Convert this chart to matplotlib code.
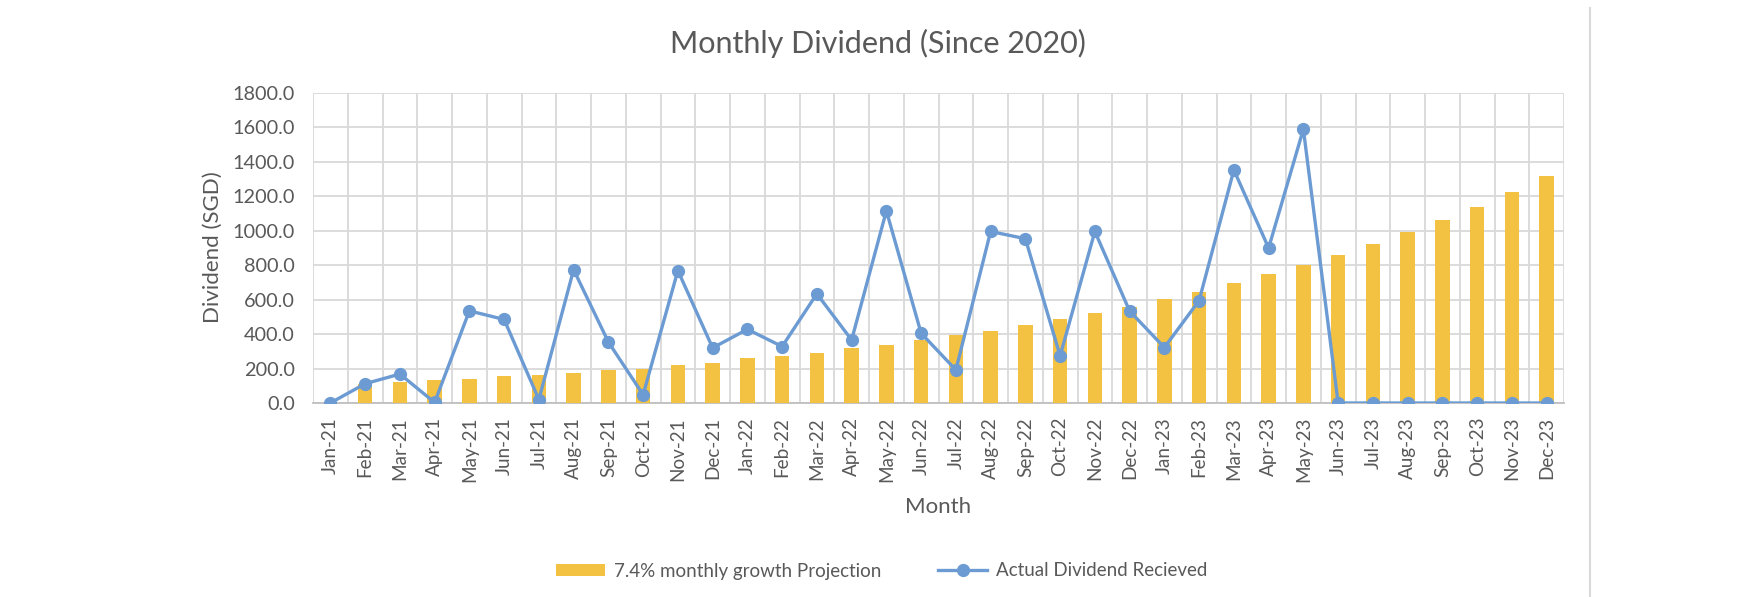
import matplotlib
matplotlib.use("Agg")
import matplotlib.pyplot as plt
from matplotlib.lines import Line2D
from matplotlib.patches import Patch
import numpy as np

months = ["Jan-21", "Feb-21", "Mar-21", "Apr-21", "May-21", "Jun-21", "Jul-21", "Aug-21",
          "Sep-21", "Oct-21", "Nov-21", "Dec-21", "Jan-22", "Feb-22", "Mar-22", "Apr-22",
          "May-22", "Jun-22", "Jul-22", "Aug-22", "Sep-22", "Oct-22", "Nov-22", "Dec-22",
          "Jan-23", "Feb-23", "Mar-23", "Apr-23", "May-23", "Jun-23", "Jul-23", "Aug-23",
          "Sep-23", "Oct-23", "Nov-23", "Dec-23"]

projection = [0, 112, 121, 135, 141, 156, 160, 173, 189, 200, 222, 233,
              260, 274, 293, 320, 339, 366, 395, 418, 453, 486, 520, 559,
              601, 647, 694, 747, 803, 861, 923, 994, 1064, 1137, 1225, 1318]

actual = [0, 112, 168, 3, 535, 485, 20, 774, 354, 48, 769, 320,
          428, 328, 634, 366, 1116, 405, 192, 996, 954, 274, 996, 534,
          322, 595, 1353, 900, 1590, 0, 0, 0, 0, 0, 0, 0]

bar_label = "7.4% monthly growth Projection"
line_label = "Actual Dividend Recieved"

BAR_C = "#F4C242"
LINE_C = "#6B9BD2"
GRID_C = "#D9D9D9"
TEXT_C = "#595959"
FONT = "Lato"

plt.rcParams["font.family"] = [FONT, "DejaVu Sans"]

W, H = 1752, 597
fig = plt.figure(figsize=(W / 100, H / 100), dpi=100)
fig.patch.set_facecolor("white")

left, right, top, bottom = 313, 1564, 93, 403
ax = fig.add_axes([left / W, 1 - bottom / H, (right - left) / W, (bottom - top) / H])

x = np.arange(len(months))
ax.bar(x, projection, width=0.42, color=BAR_C, zorder=2)
ax.plot(x, actual, color=LINE_C, lw=2.4, marker="o", markersize=8.5, zorder=3)

ax.set_xlim(-0.5, len(months) - 0.5)
ax.set_ylim(0, 1800)
ax.set_yticks(np.arange(0, 1801, 200))
ax.set_yticklabels([f"{v:.1f}" for v in np.arange(0, 1801, 200)])
ax.set_xticks(x)
ax.set_xticklabels(months, rotation=90)
ax.set_xticks(np.arange(-0.5, len(months), 1), minor=True)

ax.grid(axis="y", which="major", color=GRID_C, lw=1.3, zorder=0)
ax.grid(axis="x", which="minor", color=GRID_C, lw=1.3, zorder=0)
ax.grid(axis="x", which="major", visible=False)
ax.set_axisbelow(True)

for s in ["top", "right", "left"]:
    ax.spines[s].set_visible(False)
ax.spines["bottom"].set_color("#BFBFBF")
ax.spines["bottom"].set_linewidth(1.3)
ax.spines["bottom"].set_zorder(1)

ax.tick_params(axis="both", which="both", length=0, colors=TEXT_C)
ax.tick_params(axis="y", pad=13, labelsize=14.3)
ax.tick_params(axis="x", pad=10, labelsize=13.6)

fig.text(878 / W, 1 - 43 / H, "Monthly Dividend (Since 2020)", ha="center", va="center",
         fontsize=22, color=TEXT_C)
fig.text(213 / W, 1 - 247 / H, "Dividend (SGD)", ha="center", va="center", rotation=90,
         fontsize=16, color=TEXT_C)
fig.text(938 / W, 1 - 507 / H, "Month", ha="center", va="center", fontsize=16, color=TEXT_C)

handles = [Patch(facecolor=BAR_C, edgecolor="none"),
           Line2D([0], [0], color=LINE_C, lw=2.4, marker="o", markersize=8.5)]
leg = fig.legend(handles, [bar_label, line_label], loc="center", ncol=2,
                 bbox_to_anchor=(882 / W, 1 - 571 / H), frameon=False, fontsize=13.5,
                 handlelength=2.6, handleheight=0.6, columnspacing=3.0, handletextpad=0.5)
for t in leg.get_texts():
    t.set_color(TEXT_C)

fig.add_artist(Line2D([1590 / W, 1590 / W], [0, 1 - 8 / H], color=GRID_C, lw=1.5,
                      transform=fig.transFigure))

fig.savefig("out.png", dpi=100, facecolor="white")
